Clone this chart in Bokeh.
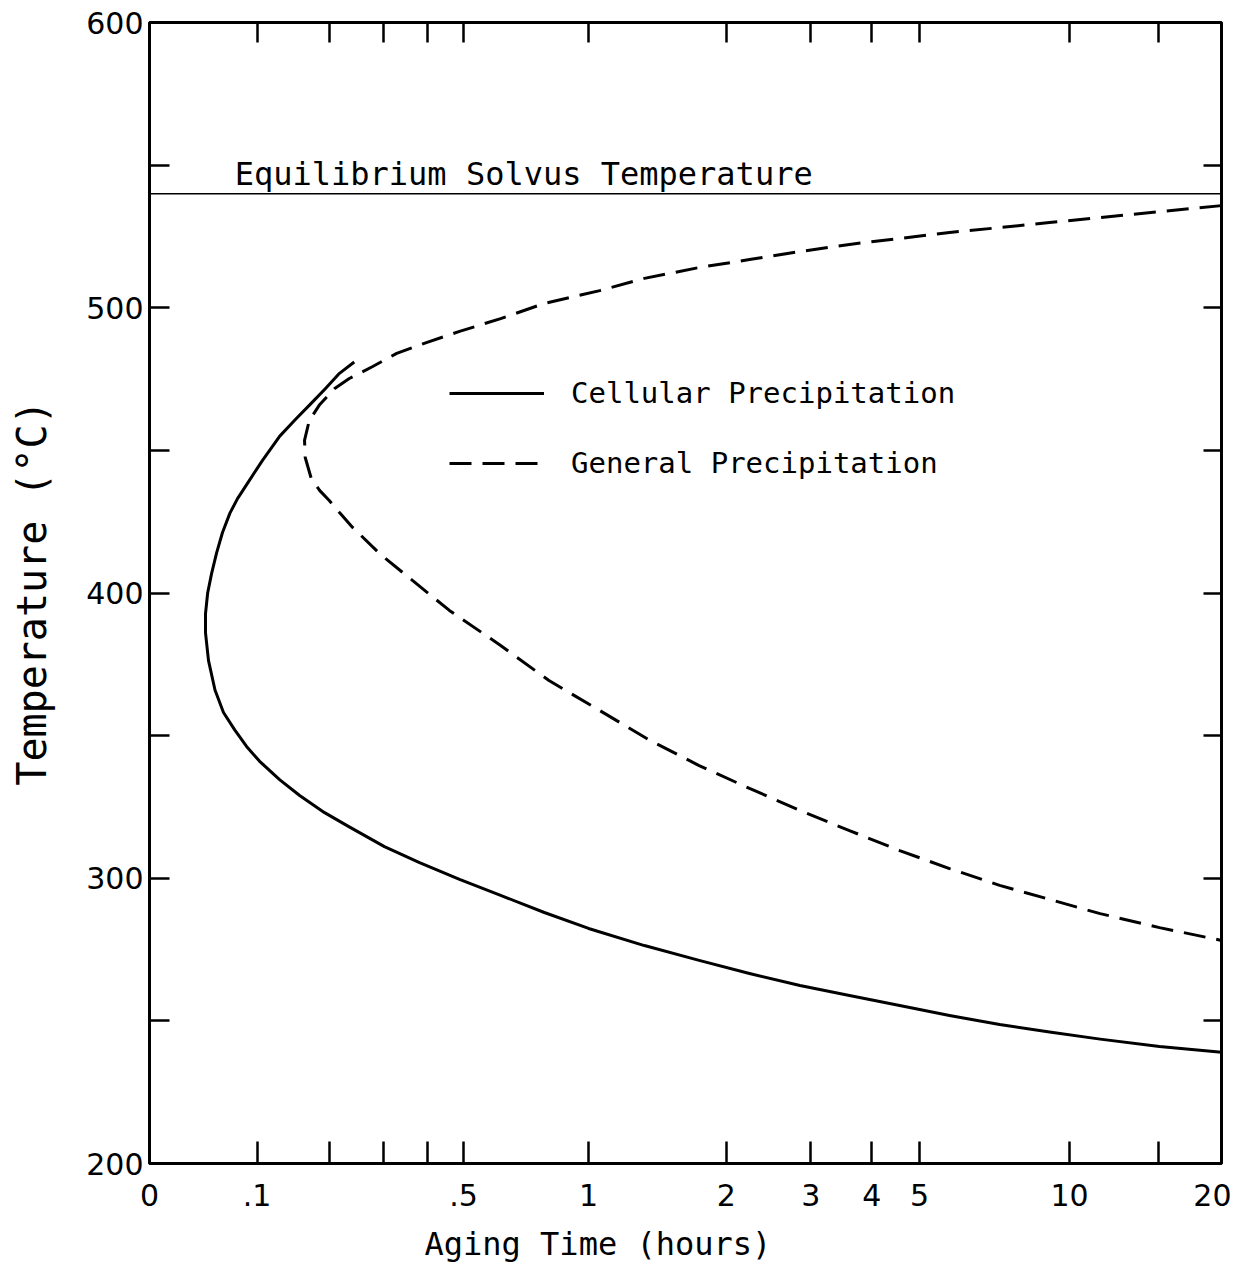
import numpy as np
from bokeh.plotting import figure
from bokeh.models import (Range1d, FixedTicker, LinearAxis, CustomJSTickFormatter,
                          Label, Legend, LegendItem, Title, ColumnDataSource, Span)
from bokeh.embed import file_html
from bokeh.resources import INLINE

# ---------------- data ----------------
cellular_time = [0.243, 0.217, 0.194, 0.174, 0.149, 0.128, 0.1064, 0.088, 0.078,
                 0.070, 0.0624, 0.0565, 0.0517, 0.048, 0.046, 0.046, 0.0488,
                 0.055, 0.0634, 0.075, 0.0879, 0.103, 0.1277, 0.155, 0.1925,
                 0.234, 0.3018, 0.381, 0.488, 0.62, 0.79, 1.0, 1.332, 1.75,
                 2.237, 2.85, 3.603, 4.56, 5.75, 7.25, 9.118, 11.5, 15.08, 20.0]
cellular_temp = [481, 477, 471.7, 467, 460.8, 455, 446.5, 438, 433.1,
                 428, 421.2, 414, 406.8, 400, 392.8, 386, 376.3,
                 366, 358.1, 352, 346.2, 341, 334.6, 329, 323,
                 318, 311.1, 305.5, 299.6, 294, 288, 282.4, 276.4, 271.2,
                 266.6, 262.4, 258.9, 255.4, 251.9, 248.7, 246.1, 243.6, 241, 239]

general_time = [20.0, 15.08, 11.5, 9.118, 7.25, 5.75, 4.56, 3.603, 2.85, 2.237,
                1.75, 1.332, 1.06, 0.79, 0.62, 0.488, 0.398, 0.328, 0.278, 0.234,
                0.209, 0.185, 0.169, 0.162, 0.163, 0.172, 0.185, 0.200, 0.217,
                0.240, 0.292, 0.364, 0.459, 0.62, 0.81, 1.06, 1.37, 1.75, 2.237,
                2.85, 3.603, 4.56, 5.75, 7.25, 9.118, 11.5, 15.08, 20.0]
general_temp = [535.8, 533.7, 531.6, 529.9, 528.1, 526.4, 524.3, 522.2, 519.7, 516.9,
                514.1, 510.3, 506, 501.5, 496.2, 491.7, 487.8, 484, 479.4, 475.2,
                471.7, 466.1, 460.5, 453.5, 447.5, 440.1, 435.9, 432.4, 428.2,
                423, 413.8, 404.4, 393.9, 381.6, 369.3, 358.8, 348.3, 339.5, 331.5,
                323.8, 316.7, 309.7, 303.4, 297.5, 292.6, 287.6, 282.7, 278.2]

solvus_temp = 540
solvus_text = "Equilibrium Solvus Temperature"

x_tick_hours = [0, 0.1, 0.2, 0.3, 0.4, 0.5, 1, 2, 3, 4, 5, 10, 15, 20]
x_tick_labels = ["0", ".1", "", "", "", ".5", "1", "2", "3", "4", "5", "10", "", "20"]
y_ticks = [200, 250, 300, 350, 400, 450, 500, 550, 600]

# time axis of the original is logarithmic in (t + offset)
C = 0.16


def tx(h):
    return np.log10(np.asarray(h, dtype=float) + C)


NUM_FONT = "DejaVu Sans"
TXT_FONT = "DejaVu Sans Mono"

p = figure(frame_width=1072, frame_height=1141,
           x_range=Range1d(float(tx(0)), float(tx(20))), y_range=Range1d(200, 600),
           output_backend="svg", toolbar_location=None,
           x_axis_location=None, y_axis_location=None,
           min_border_left=149, min_border_right=10, min_border_top=22,
           min_border_bottom=99)
p.xgrid.visible = False
p.ygrid.visible = False
p.outline_line_color = "black"
p.outline_line_width = 3
p.background_fill_color = "white"
p.border_fill_color = "white"

tick_pos = [float(v) for v in tx(x_tick_hours)]
xfmt = CustomJSTickFormatter(args=dict(pos=tick_pos, labs=x_tick_labels), code="""
for (let i = 0; i < pos.length; i++) {
  if (Math.abs(tick - pos[i]) < 1e-6) return labs[i];
}
return "";
""")
yfmt = CustomJSTickFormatter(code="return (Math.round(tick) % 100 === 0) ? tick.toFixed(0) : '';")
blank = CustomJSTickFormatter(code="return '';")


def style(ax, tick_len=20):
    ax.axis_line_color = None
    ax.major_tick_in = tick_len
    ax.major_tick_out = 0
    ax.major_tick_line_width = 2.5
    ax.major_tick_line_color = "black"
    ax.minor_tick_line_color = None
    ax.major_label_text_font = NUM_FONT
    ax.major_label_text_font_size = "30px"
    ax.major_label_text_color = "black"
    ax.axis_label_text_font = TXT_FONT
    ax.axis_label_text_font_style = "normal"
    ax.axis_label_text_color = "black"


xb = LinearAxis(ticker=FixedTicker(ticks=tick_pos), formatter=xfmt)
style(xb, 22)
xb.major_label_standoff = 20
p.add_layout(xb, "below")

xt = LinearAxis(ticker=FixedTicker(ticks=tick_pos), formatter=blank)
style(xt, 20)
xt.major_label_standoff = 0
xt.major_label_text_font_size = "1px"
p.add_layout(xt, "above")

yl = LinearAxis(ticker=FixedTicker(ticks=y_ticks), formatter=yfmt,
                axis_label="Temperature (°C)")
style(yl, 20)
yl.major_label_standoff = 6
yl.axis_label_text_font_size = "40px"
yl.axis_label_standoff = 28
p.add_layout(yl, "left")

yr = LinearAxis(ticker=FixedTicker(ticks=y_ticks), formatter=blank)
style(yr, 18)
yr.major_label_standoff = 0
yr.major_label_text_font_size = "1px"
p.add_layout(yr, "right")

xtitle = Title(text="Aging Time (hours)", align="left", offset=275,
               text_font=TXT_FONT, text_font_size="32px", text_font_style="normal",
               text_color="black", standoff=29)
p.add_layout(xtitle, "below")

# solvus line and its label
p.add_layout(Span(location=solvus_temp, dimension="width", line_color="black",
                  line_width=1.5))
p.add_layout(Label(x=float(tx(0.075)), y=solvus_temp + 6.8, text=solvus_text,
                   text_font=TXT_FONT, text_font_size="32px", text_color="black",
                   text_baseline="alphabetic"))

cell_src = ColumnDataSource(dict(x=tx(cellular_time), y=cellular_temp))
gen_src = ColumnDataSource(dict(x=tx(general_time), y=general_temp))

r_cell = p.line("x", "y", source=cell_src, line_color="black", line_width=3,
                line_join="round")
r_gen = p.line("x", "y", source=gen_src, line_color="black", line_width=3,
               line_dash="22 11")

legend = Legend(items=[LegendItem(label="Cellular Precipitation", renderers=[r_cell]),
                       LegendItem(label="General Precipitation", renderers=[r_gen])],
                location=(300, 683), padding=0, margin=0, spacing=36,
                glyph_width=95, glyph_height=34, label_height=34, label_standoff=27,
                label_text_font=TXT_FONT, label_text_font_size="29px",
                label_text_color="black", border_line_color=None,
                background_fill_alpha=0)
p.add_layout(legend, "center")

open("out.html", "w").write(file_html(p, INLINE))
